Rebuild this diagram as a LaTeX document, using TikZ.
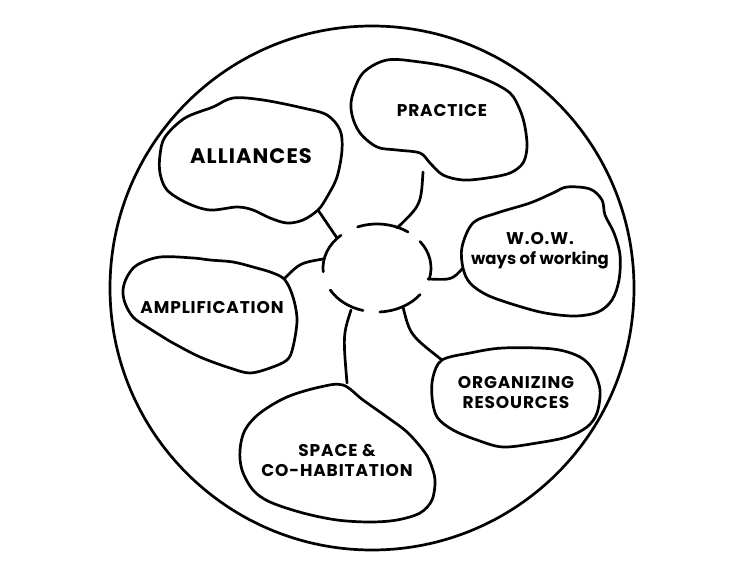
\documentclass[tikz,border=0pt]{standalone}
\usepackage{fontspec}
\setmainfont{Poppins}[LetterSpace=5]
\newfontfamily\plainfont{Poppins}
\usepackage{tikz}
\usetikzlibrary{calc}
\tikzset{
  blob/.style={line width=2.7pt, line join=round, line cap=round},
  link/.style={line width=2.7pt, line cap=round},
  lbl/.style={align=center, inner sep=1pt,
    font=\fontsize{17}{21}\selectfont\bfseries},
  lbl_big/.style={lbl, font=\fontsize{21}{25}\selectfont\bfseries},
}

\begin{document}
\begin{tikzpicture}[x=1pt,y=-1pt]
\useasboundingbox (0,0) rectangle (736,567);

%% outer ring and hub
\draw[blob] (372,288) circle[radius=262];
\coordinate (hub) at (377,268);
\foreach \a/\b in {-111/-55,-37/15,37/87,105/150,175/228}
  {\draw[blob] (hub) ++(\a:54 and 44) arc[start angle=\a,end angle=\b,x radius=54,y radius=44];}

%% blobs
\draw[blob] plot[smooth cycle,tension=0.55] coordinates {
  (165,137) (185,118) (213,107) (233,98) (263,100) (303,108) (327,115)
  (340,130) (342,150) (337,177) (327,197) (318,210) (303,220) (287,223)
  (270,218) (253,210) (237,207) (210,210) (187,203) (167,190) (160,173) (160,155)};
\draw[blob] plot[smooth cycle,tension=0.55] coordinates {
  (352,97) (363,73) (387,60) (420,62) (453,68) (487,80) (510,93) (520,110)
  (525,127) (527,147) (523,163) (510,173) (487,178) (463,180) (443,175)
  (430,163) (420,153) (397,150) (377,147) (360,133) (352,115)};
\draw[blob] plot[smooth cycle,tension=0.55] coordinates {
  (463,268) (462,247) (473,223) (497,213) (530,203) (553,193) (567,187)
  (590,189) (602,200) (605,215) (614,233) (620,255) (619,280) (612,300)
  (598,312) (575,316) (545,313) (515,305) (487,295) (470,283)};
\draw[blob] plot[smooth cycle,tension=0.55] coordinates {
  (123,290) (127,277) (137,265) (160,257) (193,258) (210,260) (233,262)
  (253,267) (273,273) (285,280) (293,297) (297,320) (293,347) (287,360)
  (270,368) (250,373) (230,368) (200,357) (173,343) (163,337) (147,327)
  (133,317) (125,303)};
\draw[blob] plot[smooth cycle,tension=0.55] coordinates {
  (442,360) (470,353) (503,348) (553,349) (580,357) (593,370) (600,390)
  (597,413) (587,427) (567,437) (537,443) (503,447) (477,440) (453,430)
  (437,417) (432,397) (433,377)};
\draw[blob] plot[smooth cycle,tension=0.55] coordinates {
  (343,385) (320,387) (287,397) (260,413) (245,430) (240,450) (242,470)
  (253,490) (270,502) (303,513) (337,520) (370,522) (397,520) (420,513)
  (432,500) (435,480) (430,462) (423,450) (407,432) (387,417) (363,400)};

%% labels
\node[lbl_big] (tAll)   at (251,156) {ALLIANCES};
\node[lbl]     (tPrac)  at (442,111) {PRACTICE};
\node[lbl]     (tWow)   at (540,251) {W.O.W.\\[-1pt]{\plainfont\fontsize{16.5}{21}\selectfont ways of working}};
\node[lbl]     (tAmp)   at (212,308) {AMPLIFICATION};
\node[lbl]     (tOrg)   at (516,393) {ORGANIZING\\[-1pt]RESOURCES};
\node[lbl]     (tSpace) at (337,460) {SPACE \&\\[-1pt]CO-HABITATION};

%% spokes
\coordinate (allOut)  at (318,210); \coordinate (allIn)  at (337,238);
\coordinate (pracOut) at (423,172); \coordinate (pracIn) at (397,228);
\coordinate (wowOut)  at (463,268); \coordinate (wowIn)  at (428,279);
\coordinate (ampOut)  at (285,278); \coordinate (ampIn)  at (323,259);
\coordinate (spcOut)  at (347,383); \coordinate (spcIn)  at (351,310);
\coordinate (orgOut)  at (442,360); \coordinate (orgIn)  at (403,307);

\draw[link] (allOut) -- (allIn);
\draw[link] (pracOut) .. controls (421,205) .. (pracIn);
\draw[link] (wowIn) .. controls (452,280) .. (wowOut);
\draw[link] (ampOut) .. controls (300,263) .. (ampIn);
\draw[link] (spcOut) .. controls (343,335) .. (spcIn);
\draw[link] (orgIn) .. controls (410,335) .. (orgOut);

\end{tikzpicture}
\end{document}
